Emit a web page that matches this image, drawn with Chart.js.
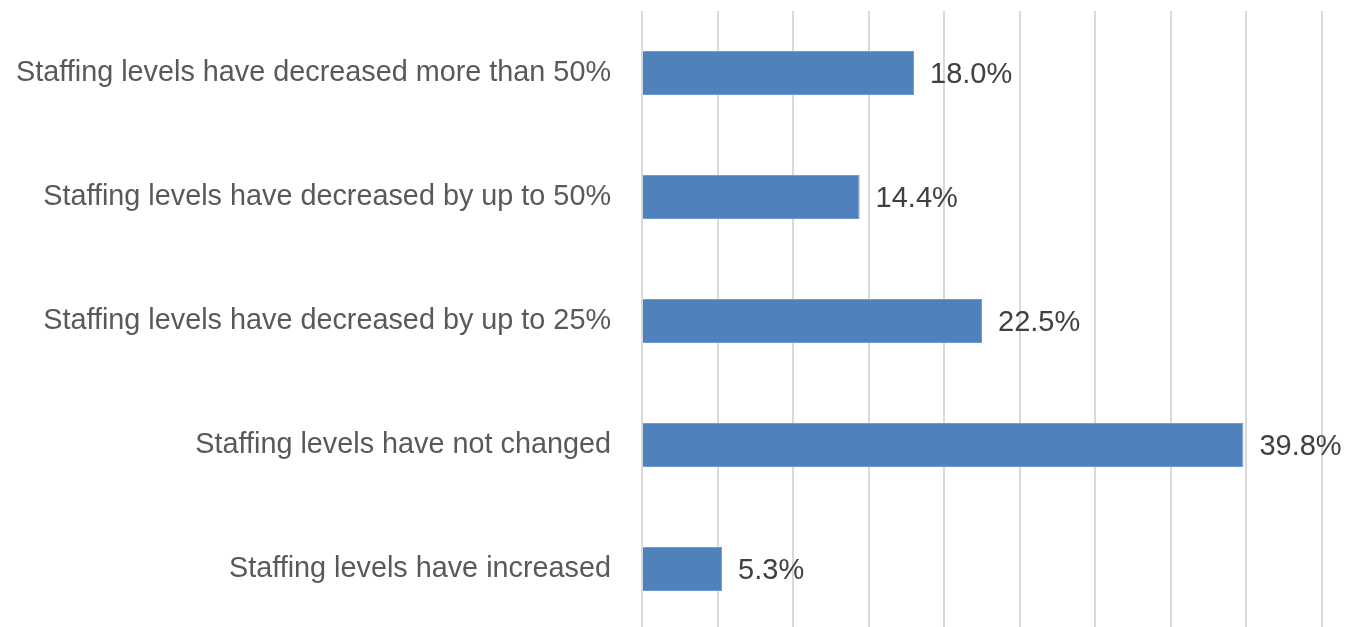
<!DOCTYPE html>
<html lang="en">
<head>
  <meta charset="UTF-8">
  <title>Staffing levels</title>
  <script src="https://cdn.jsdelivr.net/npm/chart.js"></script>
  <style>
    body { margin: 0; padding: 0; background: #fff; }
    #chart { display: block; }
  </style>
</head>
<body>
  <canvas id="chart" width="1347" height="627"></canvas>
  <script>
    // data
    const categories = [
      'Staffing levels have decreased more than 50%',
      'Staffing levels have decreased by up to 50%',
      'Staffing levels have decreased by up to 25%',
      'Staffing levels have not changed',
      'Staffing levels have increased'
    ];
    const shares = [18.0, 14.4, 22.5, 39.8, 5.3];
    const axisMin = 0;
    const axisMax = 45;
    const axisStep = 5;

    // plot area runs a little past the bottom edge in the original
    const stretchArea = {
      id: 'stretchArea',
      afterLayout(chart) {
        const y = chart.scales.y;
        y.bottom = 631;
        y.height = y.bottom - y.top;
        y.configure();
        chart.chartArea.bottom = 631;
        chart.chartArea.height = chart.chartArea.bottom - chart.chartArea.top;
        chart.scales.x.top = 631;
        chart.scales.x.bottom = 631;
      }
    };

    // value labels at the end of each bar
    const barLabels = {
      id: 'barLabels',
      afterDatasetsDraw(chart) {
        const ctx = chart.ctx;
        const meta = chart.getDatasetMeta(0);
        ctx.save();
        ctx.font = '29px "Liberation Sans", Arial, sans-serif';
        ctx.fillStyle = '#404040';
        ctx.textAlign = 'left';
        ctx.textBaseline = 'middle';
        meta.data.forEach((bar, i) => {
          ctx.fillText(shares[i].toFixed(1) + '%', bar.x + 16, bar.y + 2);
        });
        ctx.restore();
      }
    };

    new Chart(document.getElementById('chart').getContext('2d'), {
      type: 'bar',
      data: {
        labels: categories,
        datasets: [{
          data: shares,
          backgroundColor: '#4f81bd',
          borderColor: '#6f9bd0',
          borderWidth: 1,
          barPercentage: 0.355,
          categoryPercentage: 1
        }]
      },
      options: {
        indexAxis: 'y',
        responsive: false,
        animation: false,
        layout: { padding: { top: 11, right: 25, bottom: 0, left: 0 } },
        plugins: {
          legend: { display: false },
          tooltip: { enabled: false }
        },
        scales: {
          x: {
            min: axisMin,
            max: axisMax,
            ticks: { display: false, stepSize: axisStep },
            grid: { color: '#d9d9d9', lineWidth: 2, drawTicks: false },
            border: { display: false },
            afterFit(scale) { scale.height = 0; }
          },
          y: {
            grid: { display: false, drawTicks: false },
            border: { display: false },
            ticks: {
              color: '#595959',
              padding: 31,
              font: { family: '"Liberation Sans", Arial, sans-serif', size: 28.8 }
            },
            afterFit(scale) {
              scale.width = 642;
              scale.paddingTop = 0;
              scale.paddingBottom = 0;
            }
          }
        }
      },
      plugins: [stretchArea, barLabels]
    });
  </script>
</body>
</html>
